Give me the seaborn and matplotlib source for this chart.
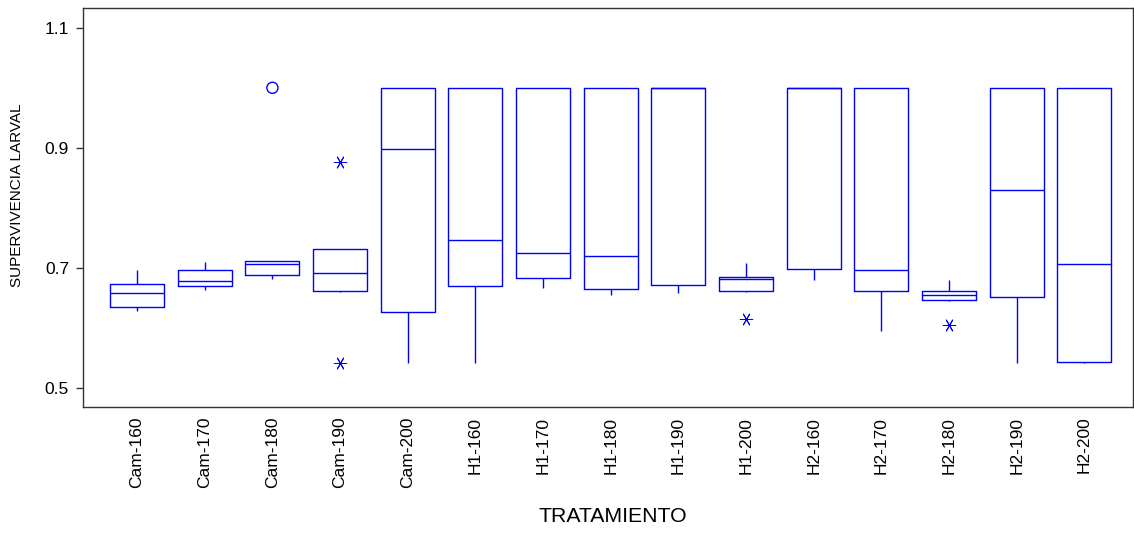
import numpy as np
import pandas as pd
import matplotlib
matplotlib.use("Agg")
import matplotlib.pyplot as plt
import seaborn as sns

# ---- data ----
treatments = ["Cam-160", "Cam-170", "Cam-180", "Cam-190", "Cam-200",
              "H1-160", "H1-170", "H1-180", "H1-190", "H1-200",
              "H2-160", "H2-170", "H2-180", "H2-190", "H2-200"]

cam_160 = [0.628, 0.635, 0.658, 0.673, 0.697]
cam_170 = [0.663, 0.669, 0.678, 0.696, 0.709]
cam_180 = [0.682, 0.685, 0.688, 0.697, 0.706, 0.708, 0.711, 0.712, 1.000]
cam_190 = [0.541, 0.659, 0.661, 0.675, 0.692, 0.710, 0.731, 0.732, 0.877]
cam_200 = [0.541, 0.627, 0.898, 1.000, 1.000]
h1_160 = [0.541, 0.669, 0.746, 1.000, 1.000]
h1_170 = [0.667, 0.683, 0.724, 1.000, 1.000]
h1_180 = [0.655, 0.664, 0.719, 1.000, 1.000]
h1_190 = [0.658, 0.671, 1.000, 1.000, 1.000]
h1_200 = [0.614, 0.660, 0.661, 0.670, 0.681, 0.683, 0.684, 0.708, 0.708]
h2_160 = [0.679, 0.698, 1.000, 1.000, 1.000]
h2_170 = [0.594, 0.661, 0.696, 1.000, 1.000]
h2_180 = [0.604, 0.644, 0.646, 0.650, 0.655, 0.658, 0.661, 0.670, 0.679]
h2_190 = [0.541, 0.652, 0.829, 1.000, 1.000]
h2_200 = [0.541, 0.543, 0.706, 1.000, 1.000]

groups = [cam_160, cam_170, cam_180, cam_190, cam_200,
          h1_160, h1_170, h1_180, h1_190, h1_200,
          h2_160, h2_170, h2_180, h2_190, h2_200]

y_ticks = [0.5, 0.7, 0.9, 1.1]

df = pd.DataFrame({
    "TRATAMIENTO": np.repeat(treatments, [len(g) for g in groups]),
    "SUPERVIVENCIA LARVAL": np.concatenate(groups),
})

# outliers derived from the data (1.5 IQR -> asterisk, 3 IQR -> circle)
rows = []
for t, g in zip(treatments, groups):
    q1, q3 = np.percentile(g, [25, 75])
    iqr = q3 - q1
    for v in g:
        if v < q1 - 1.5 * iqr or v > q3 + 1.5 * iqr:
            kind = "extreme" if (v < q1 - 3 * iqr or v > q3 + 3 * iqr) else "mild"
            rows.append((t, v, kind))
out = pd.DataFrame(rows, columns=["TRATAMIENTO", "SUPERVIVENCIA LARVAL", "kind"])

# ---- plot ----
sns.set_theme(style="white")
plt.rcParams["font.family"] = ["Liberation Sans", "DejaVu Sans"]

BLUE = "#0000ff"
fig = plt.figure(figsize=(11.34, 5.33), dpi=100)
ax = fig.add_axes([83 / 1134, 1 - 407 / 533, (1133 - 83) / 1134, (407 - 8) / 533])

sns.boxplot(data=df, x="TRATAMIENTO", y="SUPERVIVENCIA LARVAL", order=treatments,
            whis=1.5, width=0.8, fill=False, color=BLUE, linecolor=BLUE,
            linewidth=1.0, showcaps=False, showfliers=False, ax=ax)

n0 = len(ax.collections)
mild = out[out["kind"] == "mild"]
if len(mild):
    sns.stripplot(data=mild, x="TRATAMIENTO", y="SUPERVIVENCIA LARVAL", order=treatments,
                  jitter=False, marker=(6, 2, 90), size=9, color=BLUE, linewidth=0.7, ax=ax)
for c in ax.collections[n0:]:
    c.set_edgecolor(BLUE)
    c.set_facecolor(BLUE)
    c.set_linewidth(0.7)

n1 = len(ax.collections)
ext = out[out["kind"] == "extreme"]
if len(ext):
    sns.stripplot(data=ext, x="TRATAMIENTO", y="SUPERVIVENCIA LARVAL", order=treatments,
                  jitter=False, marker="o", size=8, color=BLUE, linewidth=1.0, ax=ax)
for c in ax.collections[n1:]:
    c.set_facecolor("none")
    c.set_edgecolor(BLUE)
    c.set_linewidth(1.0)

ax.set_xlim(-0.8, 14.72)
ax.set_ylim(0.468, 1.133)
ax.set_yticks(y_ticks)
ax.set_yticklabels([f"{v:.1f}" for v in y_ticks])

for s in ax.spines.values():
    s.set_visible(True)
    s.set_color("#333333")
    s.set_linewidth(1.0)

ax.tick_params(axis="x", length=0, pad=7, labelsize=12.5, labelrotation=90, colors="black")
ax.tick_params(axis="y", length=5, width=1, color="#333333", pad=5, labelsize=12.5,
               colors="black", left=True)
ax.yaxis.set_ticks_position("left")

ax.set_xlabel("TRATAMIENTO", fontsize=15.3, color="black")
ax.xaxis.set_label_coords(0.505, (407 - 517) / 399)
ax.xaxis.label.set_va("center")
ax.set_ylabel("SUPERVIVENCIA LARVAL", fontsize=11, color="black")
ax.yaxis.set_label_coords((17 - 83) / 1050, (407 - 195) / 399)
ax.yaxis.label.set_va("center")

fig.savefig("out.png", dpi=100)
